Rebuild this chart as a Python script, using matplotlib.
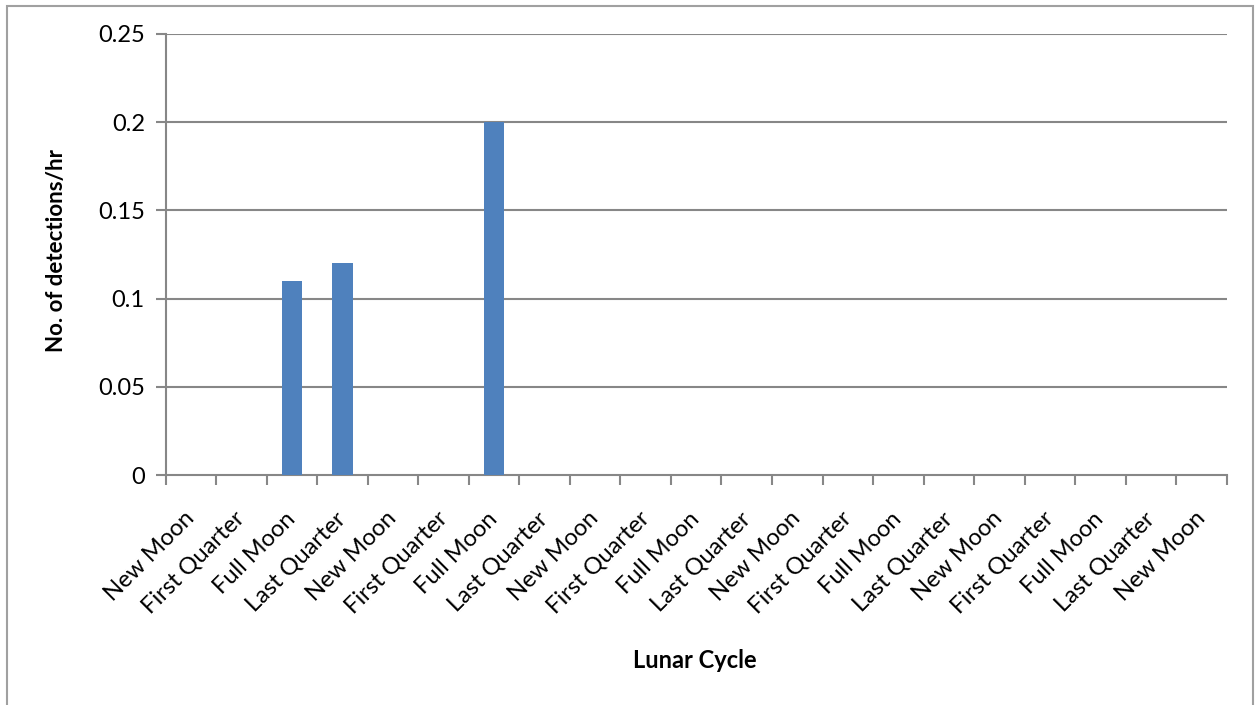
import numpy as np
import matplotlib.pyplot as plt
from matplotlib.patches import Rectangle

plt.rcParams['font.family'] = ['Lato', 'DejaVu Sans']

# lunar phases along the x axis, detection rate per phase
phases = ["New Moon", "First Quarter", "Full Moon", "Last Quarter"] * 5 + ["New Moon"]
detections = [0, 0, 0.11, 0.12, 0, 0, 0.2, 0, 0, 0, 0, 0, 0, 0, 0, 0, 0, 0, 0, 0, 0]
y_ticks = [0, 0.05, 0.1, 0.15, 0.2, 0.25]
y_labels = ["0", "0.05", "0.1", "0.15", "0.2", "0.25"]

grid_col = "#878787"
bar_col = "#4F81BD"

fig = plt.figure(figsize=(12.55, 7.05), dpi=100)
ax = fig.add_axes([0.132, 0.3262, 0.8455, 0.6256])

x = np.arange(len(phases))
ax.bar(x, detections, width=0.4, color=bar_col, zorder=3)

ax.set_xlim(-0.5, len(phases) - 0.5)
ax.set_ylim(0, 0.25)
ax.set_yticks(y_ticks)
ax.set_yticklabels(y_labels, fontsize=17)
for y in y_ticks[1:]:
    ax.axhline(y, color=grid_col, lw=1.5, zorder=1)

# ticks sit on category boundaries, labels at category centres
ax.set_xticks(np.arange(len(phases) + 1) - 0.5)
ax.set_xticklabels([])
ax.set_xticks(x, minor=True)
ax.set_xticklabels(phases, minor=True, rotation=45, ha="right",
                   rotation_mode="anchor", va="center", fontsize=17)
ax.tick_params(axis="x", which="minor", length=0, pad=29)
ax.tick_params(axis="x", which="major", length=7, width=1.5, color=grid_col)
ax.tick_params(axis="y", length=7, width=1.5, color=grid_col, pad=8)

for side in ["top", "right"]:
    ax.spines[side].set_visible(False)
for side in ["left", "bottom"]:
    ax.spines[side].set_color(grid_col)
    ax.spines[side].set_linewidth(1.5)

fig.text(57 / 1255, 1 - 250 / 705, "No. of detections/hr", fontsize=16,
         fontweight="bold", rotation=90, ha="center", va="center")
fig.text(695 / 1255, 1 - 660 / 705, "Lunar Cycle", fontsize=17,
         fontweight="bold", ha="center", va="center")

# outer chart frame (bottom edge runs off the image)
fig.patches.append(Rectangle((7 / 1255, -0.05), 1246 / 1255, 1.05 - 6 / 705,
                             transform=fig.transFigure, fill=False,
                             edgecolor="#a0a0a0", lw=1.5))

fig.savefig("out.png", dpi=100)
